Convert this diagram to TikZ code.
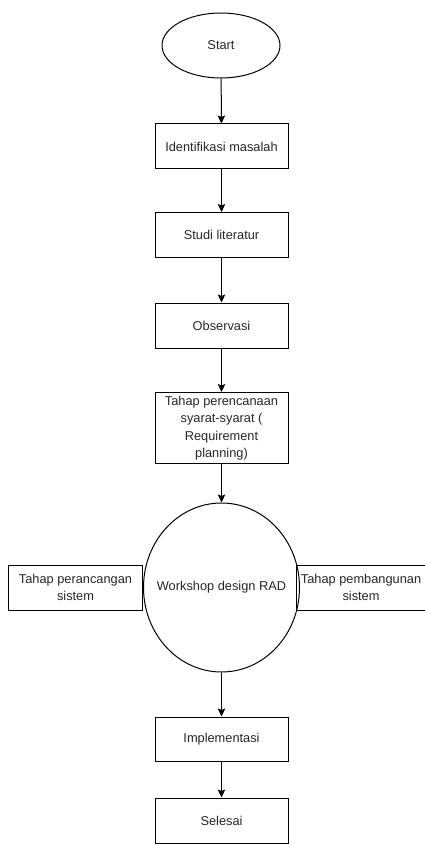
\documentclass[tikz,border=0pt]{standalone}
\usepackage{fontspec}
\setmainfont{Liberation Sans}
\usetikzlibrary{arrows.meta,shapes.geometric}
\begin{document}
\begin{tikzpicture}[x=1pt,y=-1pt,
  every node/.style={font=\fontsize{12.8}{17.5}\selectfont, text=black!85, line width=1pt},
  stepbox/.style={draw, rectangle, minimum width=133pt, minimum height=45pt, inner sep=0pt, align=center},
  oval/.style={draw, ellipse, inner sep=0pt, align=center},
  arr/.style={draw, line width=1pt, -{Stealth[length=8pt,width=7.5pt,inset=1.5pt]}}
]
\useasboundingbox (0,0) rectangle (425,845);
\node[oval, minimum width=118pt, minimum height=65pt] (start) at (221,45.5) {Start};
\node[stepbox] (ident) at (221.5,146.5) {Identifikasi masalah};
\node[stepbox] (studi) at (221.5,235) {Studi literatur};
\node[stepbox] (obs) at (221.5,325.5) {Observasi};
\node[stepbox, minimum height=71pt] (req) at (221.5,428) {Tahap perencanaan\\syarat-syarat (\\Requirement\\planning)};
\node[oval, minimum width=156pt, minimum height=169pt] (ws) at (221.5,587.5) {};
\node (wstext) at (ws.center) {Workshop design RAD};
\node[stepbox, minimum width=134pt, minimum height=45pt, anchor=east] (rancang) at (ws.west) {Tahap perancangan\\sistem};
\node[stepbox, minimum width=130pt, minimum height=45pt] (bangun) at (361,587.5) {Tahap pembangunan\\sistem};
\node[stepbox, minimum height=44pt] (impl) at (221.5,739) {Implementasi};
\node[stepbox, minimum height=45pt] (selesai) at (221.5,820.5) {Selesai};
\draw[arr] (start) -- (ident);
\draw[arr] (ident) -- (studi);
\draw[arr] (studi) -- (obs);
\draw[arr] (obs) -- (req);
\draw[arr] (req) -- (ws);
\draw[arr] (ws) -- (impl);
\draw[arr] (impl) -- (selesai);
\end{tikzpicture}
\end{document}
